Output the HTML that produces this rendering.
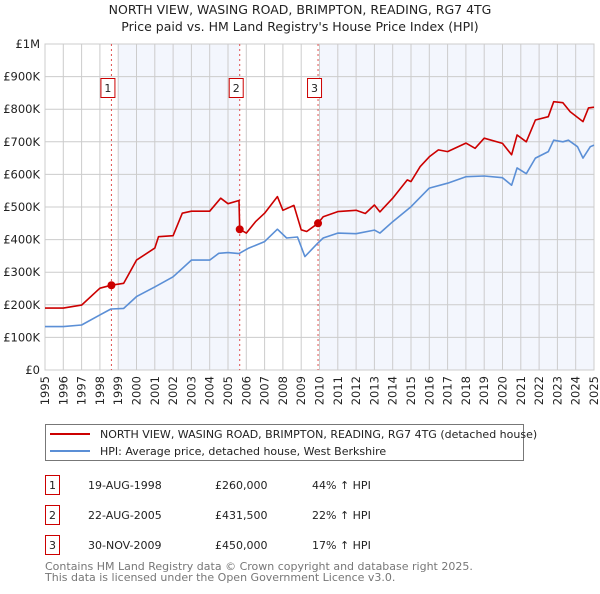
<!DOCTYPE html>
<html><head><meta charset="utf-8">
<style>
body{margin:0;background:#fff;font-family:"DejaVu Sans","Liberation Sans",sans-serif;}
svg text{font-family:"DejaVu Sans","Liberation Sans",sans-serif;}
</style></head>
<body>
<svg id="chart" width="600" height="590" xmlns="http://www.w3.org/2000/svg">
<text x="300" y="14" text-anchor="middle" font-size="12.5" fill="#222">NORTH VIEW, WASING ROAD, BRIMPTON, READING, RG7 4TG</text>
<text x="300" y="31" text-anchor="middle" font-size="12.5" fill="#222">Price paid vs. HM Land Registry's House Price Index (HPI)</text>
<g id="plot"></g>
<g>
<rect x="45.5" y="424.5" width="478" height="36" fill="#fff" stroke="#777"/>
<line x1="50" y1="434" x2="90" y2="434" stroke="#cc0000" stroke-width="2"/>
<text x="100" y="438" font-size="11" fill="#222">NORTH VIEW, WASING ROAD, BRIMPTON, READING, RG7 4TG (detached house)</text>
<line x1="50" y1="451" x2="90" y2="451" stroke="#5b8fd6" stroke-width="2"/>
<text x="100" y="455" font-size="11" fill="#222">HPI: Average price, detached house, West Berkshire</text>
</g>
<g font-size="11" fill="#222">
<rect x="45.5" y="475.5" width="14" height="19" fill="#fff" stroke="#cc0000"/>
<text x="52.5" y="489" text-anchor="middle">1</text>
<text x="88" y="489">19-AUG-1998</text>
<text x="215" y="489">£260,000</text>
<text x="312" y="489">44% ↑ HPI</text>
<rect x="45.5" y="505.5" width="14" height="19" fill="#fff" stroke="#cc0000"/>
<text x="52.5" y="519" text-anchor="middle">2</text>
<text x="88" y="519">22-AUG-2005</text>
<text x="215" y="519">£431,500</text>
<text x="312" y="519">22% ↑ HPI</text>
<rect x="45.5" y="535.5" width="14" height="19" fill="#fff" stroke="#cc0000"/>
<text x="52.5" y="549" text-anchor="middle">3</text>
<text x="88" y="549">30-NOV-2009</text>
<text x="215" y="549">£450,000</text>
<text x="312" y="549">17% ↑ HPI</text>
</g>
<text x="45" y="570" font-size="11" fill="#777">Contains HM Land Registry data © Crown copyright and database right 2025.</text>
<text x="45" y="581" font-size="11" fill="#777">This data is licensed under the Open Government Licence v3.0.</text>
</svg>
<script>
const hpiYears=[1995,1996,1997,1998,1998.6,1999.3,2000,2001,2002,2003,2004,2004.5,2005,2005.6,2006.1,2007,2007.7,2008.2,2008.8,2009.2,2009.9,2010.2,2011,2012,2013,2013.3,2014,2015,2016,2017,2018,2019,2020,2020.5,2020.8,2021.3,2021.8,2022.5,2022.8,2023.3,2023.6,2024.1,2024.4,2024.8,2025];
const hpiValues=[133,133,138,169,187,189,225,255,286,337,337,358,360,357,373,394,432,405,408,348,389,405,420,418,429,420,455,501,558,573,593,595,590,567,620,602,650,670,705,700,705,685,650,685,690];
const priceYears=[1995,1996,1997,1998,1998.63,1999.3,2000,2001,2001.2,2002,2002.5,2003,2004,2004.6,2005,2005.6,2005.64,2006,2006.5,2007,2007.7,2008,2008.6,2009,2009.3,2009.92,2010.2,2011,2012,2012.5,2013,2013.3,2014,2014.8,2015,2015.5,2016,2016.5,2017,2018,2018.5,2019,2020,2020.5,2020.8,2021.3,2021.8,2022.5,2022.8,2023.3,2023.7,2024.4,2024.7,2025];
const priceValues=[190,190,199,251,260,266,337,374,409,412,481,487,487,527,510,520,431.5,420,455,481,532,490,505,430,425,450,470,486,490,480,506,485,527,583,578,624,654,675,670,696,680,711,695,660,721,700,767,777,823,820,792,762,804,806];
const saleYears=[1998.63,2005.64,2009.92];
const saleValues=[260,431.5,450];
const saleLabels=["1","2","3"];
const yTicks=[0,100,200,300,400,500,600,700,800,900,1000];
const yTickLabels=["£0","£100K","£200K","£300K","£400K","£500K","£600K","£700K","£800K","£900K","£1M"];
const xTicks=[1995,1996,1997,1998,1999,2000,2001,2002,2003,2004,2005,2006,2007,2008,2009,2010,2011,2012,2013,2014,2015,2016,2017,2018,2019,2020,2021,2022,2023,2024,2025];

const L=45,R=594,T=44,B=370;
const xS=y=>L+(y-1995)/(2025-1995)*(R-L);
const yS=v=>B-v/1000*(B-T);
const NS="http://www.w3.org/2000/svg";
const g=document.getElementById('plot');
function mk(tag,attrs){const e=document.createElementNS(NS,tag);for(const k in attrs)e.setAttribute(k,attrs[k]);g.appendChild(e);return e;}

let e;
e=mk('rect',{x:xS(1999),y:T,width:xS(saleYears[1])-xS(1999),height:B-T,fill:'#f3f6fd'});


e=mk('rect',{x:xS(2010),y:T,width:R-xS(2010),height:B-T,fill:'#f3f6fd'});



yTicks.forEach((v,i)=>{
  e=mk('line',{x1:L,x2:R,y1:yS(v),y2:yS(v),stroke:'#ccc','stroke-width':1});
  
  
  e=mk('text',{x:L-5,y:yS(v)+4,'text-anchor':'end','font-size':11.5,fill:'#222'});
  e.textContent=yTickLabels[i];
  
  
});
xTicks.forEach(yr=>{
  e=mk('line',{x1:xS(yr),x2:xS(yr),y1:T,y2:B,stroke:'#ccc','stroke-width':1});
  
  
  e=mk('text',{x:0,y:0,'text-anchor':'end','font-size':11.5,fill:'#222',transform:`translate(${xS(yr)+4},${B+6}) rotate(-90)`});
  e.textContent=yr;
  
  
});
e=mk('rect',{x:L,y:T,width:R-L,height:B-T,fill:'none',stroke:'#ccc'});



saleYears.forEach((yr,i)=>{
  e=mk('line',{x1:xS(yr),x2:xS(yr),y1:T,y2:B,stroke:'#e05050','stroke-width':1,'stroke-dasharray':'2,3'});
  
  
});

function path(xs,vs,col,name){
  const d=xs.map((x,i)=>(i?'L':'M')+xS(x).toFixed(1)+','+yS(vs[i]).toFixed(1)).join('');
  const p=mk('path',{d:d,fill:'none',stroke:col,'stroke-width':1.6,'stroke-linejoin':'round'});
  
  
}
path(hpiYears,hpiValues,'#5b8fd6','hpi-line');
path(priceYears,priceValues,'#cc0000','price-paid-line');

saleYears.forEach((yr,i)=>{
  e=mk('circle',{cx:xS(yr),cy:yS(saleValues[i]),r:4,fill:'#cc0000'});
  
  
  const bx=xS(yr)-10.5;
  e=mk('rect',{x:bx,y:78.5,width:14,height:19,fill:'#fff',stroke:'#cc0000'});
  
  
  e=mk('text',{x:bx+7,y:92,'text-anchor':'middle','font-size':11,fill:'#222'});
  e.textContent=saleLabels[i];
  
  
});
</script>
</body></html>
